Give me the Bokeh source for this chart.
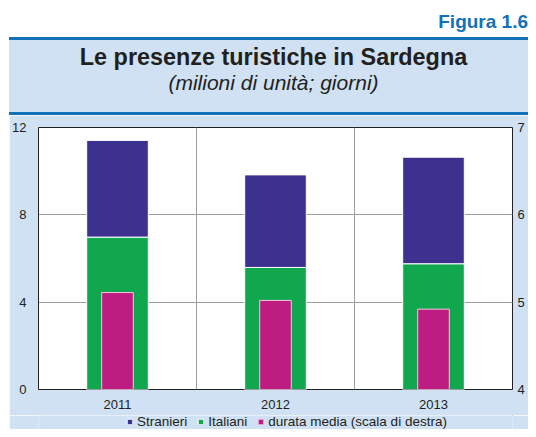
from bokeh.plotting import figure
from bokeh.models import (ColumnDataSource, Range1d, LinearAxis, FixedTicker,
                          Legend, LegendItem, Div)
from bokeh.layouts import column
from bokeh.embed import file_html
from bokeh.resources import INLINE

# ---- data ----
years = ["2011", "2012", "2013"]
stranieri = [4.43, 4.24, 4.88]
italiani = [6.98, 5.59, 5.76]
durata = [5.11, 5.02, 4.92]
left_ticks = [0, 4, 8, 12]
right_ticks = [4, 5, 6, 7]

fig_label = "Figura 1.6"
title = "Le presenze turistiche in Sardegna"
subtitle = "(milioni di unità; giorni)"
legend_labels = ["Stranieri", "Italiani", "durata media (scala di destra)"]

# ---- style ----
PURPLE = "#3d3190"
GREEN = "#11a74e"
MAGENTA = "#bd1d81"
PANEL = "#cfe1f2"
BLUE = "#1271b8"
TXT = "#231f20"
GRID = "#9d9d9d"
FONT = "Liberation Sans"
DUR_LINE = "#f3c6e0"

W = 528
PAD_L = 9
HEAD_H = 115
FIG_H = 300
LEG_H = 14

header_html = f"""
<div style="position:relative;width:{W}px;height:{HEAD_H}px;overflow:hidden;background:#ffffff;
            font-family:'{FONT}',Arial,sans-serif;color:{TXT};">
  <div style="position:absolute;right:0;top:12px;height:20px;line-height:20px;font-size:19px;
              font-weight:bold;color:{BLUE};white-space:nowrap;">{fig_label}</div>
  <div style="position:absolute;left:{PAD_L}px;top:37px;width:{W - PAD_L}px;height:3px;background:{BLUE};"></div>
  <div style="position:absolute;left:{PAD_L}px;top:40px;width:{W - PAD_L}px;height:72px;background:{PANEL};"></div>
  <div style="position:absolute;left:{PAD_L}px;top:112px;width:{W - PAD_L}px;height:3px;background:{BLUE};"></div>
  <div style="position:absolute;left:0;top:44px;width:547px;height:26px;line-height:26px;font-size:23.4px;
              font-weight:bold;text-align:center;white-space:nowrap;">{title}</div>
  <div style="position:absolute;left:0;top:71px;width:547px;height:24px;line-height:24px;font-size:21px;
              font-style:italic;text-align:center;white-space:nowrap;">{subtitle}</div>
</div>
"""
header = Div(text=header_html, width=W, height=HEAD_H, margin=0)

x = list(range(1, len(years) + 1))
src = ColumnDataSource(dict(x=x, italiani=italiani, stranieri=stranieri, durata=durata))

p = figure(width=W - PAD_L, height=FIG_H, output_backend="svg", toolbar_location=None,
           x_range=Range1d(0.5, len(years) + 0.5),
           y_range=Range1d(left_ticks[0], left_ticks[-1]),
           min_border_left=28, min_border_right=16,
           min_border_top=12, min_border_bottom=26,
           border_fill_color=PANEL, background_fill_color="white",
           outline_line_color=TXT, outline_line_width=1, margin=(0, 0, 0, PAD_L))
p.extra_y_ranges = {"right": Range1d(right_ticks[0], right_ticks[-1])}

# bars
stack = p.vbar_stack(["italiani", "stranieri"], x="x", width=0.39, source=src,
                     fill_color=[GREEN, PURPLE], line_color="white", line_width=1)
r_dur = p.vbar(x="x", width=0.2, bottom=right_ticks[0], top="durata", source=src,
               y_range_name="right", fill_color=MAGENTA, line_color=DUR_LINE, line_width=1)

# axes
p.add_layout(LinearAxis(y_range_name="right"), "right")
for ax in p.axis:
    ax.axis_line_color = None
    ax.major_tick_line_color = None
    ax.minor_tick_line_color = None
    ax.major_tick_out = 0
    ax.major_tick_in = 0
    ax.minor_tick_out = 0
    ax.major_label_text_font = FONT
    ax.major_label_text_font_size = "13px"
    ax.major_label_text_color = TXT
p.xaxis.ticker = FixedTicker(ticks=x)
p.xaxis.major_label_overrides = {xi: yr for xi, yr in zip(x, years)}
p.xaxis.major_label_standoff = 10
p.yaxis[0].ticker = FixedTicker(ticks=left_ticks)
p.yaxis[0].major_label_standoff = 12
p.yaxis[1].ticker = FixedTicker(ticks=right_ticks)
p.yaxis[1].major_label_standoff = 5

p.ygrid.ticker = FixedTicker(ticks=left_ticks)
p.xgrid.ticker = FixedTicker(ticks=[xi + 0.5 for xi in x[:-1]])
p.grid.grid_line_color = GRID
p.grid.grid_line_width = 1

# legend strip: a small axis-less figure; its proxy renderers reuse the same data
# but lie outside the strip's (empty) view, so only the legend is visible there.
lg = figure(width=W - PAD_L, height=LEG_H, output_backend="svg", toolbar_location=None,
            x_range=Range1d(-2, -1), y_range=Range1d(-2, -1),
            x_axis_location=None, y_axis_location=None,
            min_border_left=0, min_border_right=0, min_border_top=0, min_border_bottom=0,
            border_fill_color=PANEL, background_fill_color=PANEL,
            outline_line_color=None, margin=(0, 0, 0, PAD_L))
lg.grid.visible = False
d_str = lg.vbar(x="x", top="stranieri", width=0.39, source=src,
                fill_color=PURPLE, line_color="white", line_width=1)
d_ita = lg.vbar(x="x", top="italiani", width=0.39, source=src,
                fill_color=GREEN, line_color="white", line_width=1)
d_dur = lg.vbar(x="x", top="durata", width=0.2, source=src,
                fill_color=MAGENTA, line_color=DUR_LINE, line_width=1)

legend = Legend(items=[LegendItem(label=legend_labels[0], renderers=[d_str]),
                       LegendItem(label=legend_labels[1], renderers=[d_ita]),
                       LegendItem(label=legend_labels[2], renderers=[d_dur])],
                location=(88, 0), orientation="horizontal",
                glyph_width=7, glyph_height=7, label_height=LEG_H, label_standoff=4,
                spacing=10, padding=0, margin=0,
                label_text_font=FONT, label_text_font_size="13.5px", label_text_color=TXT,
                background_fill_alpha=0, border_line_alpha=0)
lg.add_layout(legend)

layout = column(header, p, lg, spacing=0, margin=0)
open("out.html", "w").write(file_html(layout, INLINE))
